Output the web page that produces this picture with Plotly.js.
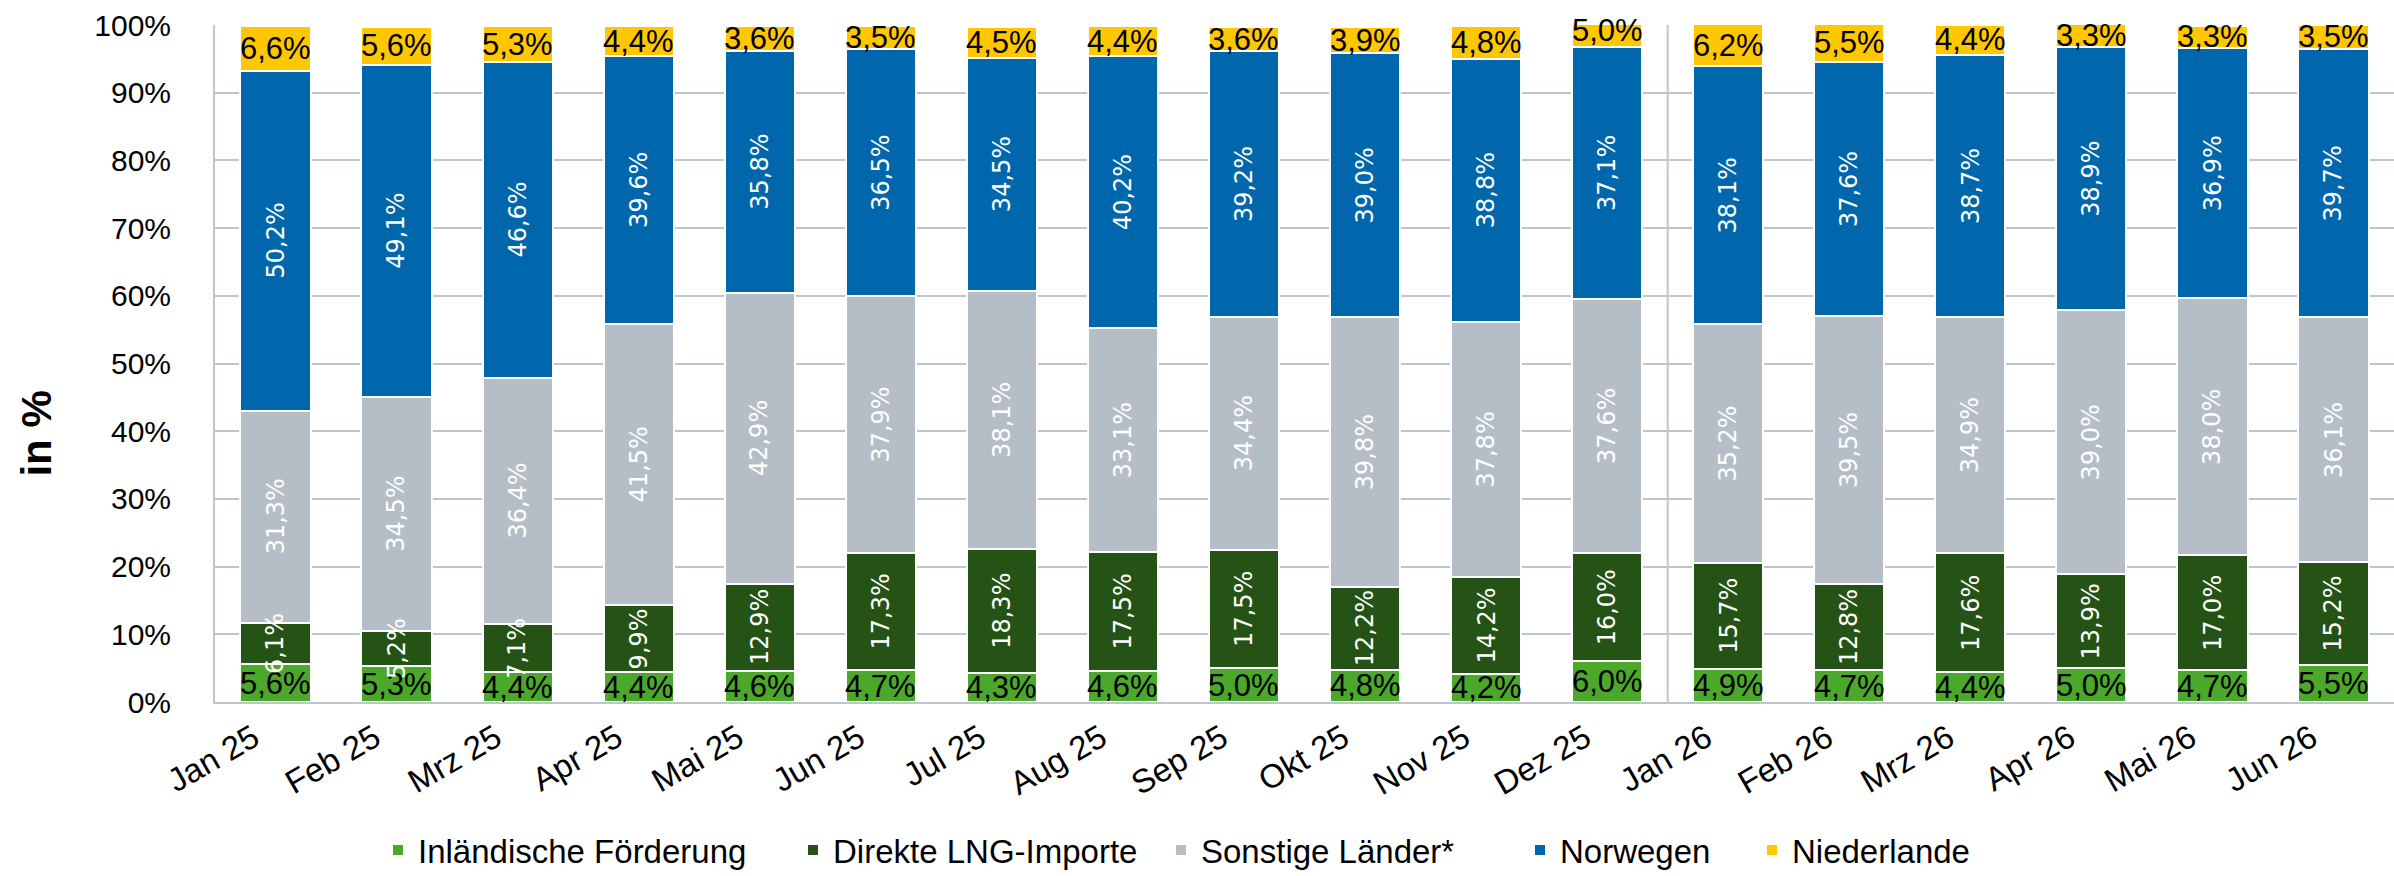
<!DOCTYPE html>
<html>
<head>
<meta charset="utf-8">
<script src="https://cdn.plot.ly/plotly-3.0.1.min.js"></script>
<style>
  html, body { margin: 0; padding: 0; background: #ffffff; }
  #chart { width: 2394px; height: 876px; }
</style>
</head>
<body>
<div id="chart"></div>
<script>
const months = ["Jan 25","Feb 25","Mrz 25","Apr 25","Mai 25","Jun 25","Jul 25","Aug 25","Sep 25","Okt 25","Nov 25","Dez 25","Jan 26","Feb 26","Mrz 26","Apr 26","Mai 26","Jun 26"];
const inlaendisch = [5.6,5.3,4.4,4.4,4.6,4.7,4.3,4.6,5.0,4.8,4.2,6.0,4.9,4.7,4.4,5.0,4.7,5.5];
const lng = [6.1,5.2,7.1,9.9,12.9,17.3,18.3,17.5,17.5,12.2,14.2,16.0,15.7,12.8,17.6,13.9,17.0,15.2];
const sonstige = [31.3,34.5,36.4,41.5,42.9,37.9,38.1,33.1,34.4,39.8,37.8,37.6,35.2,39.5,34.9,39.0,38.0,36.1];
const norwegen = [50.2,49.1,46.6,39.6,35.8,36.5,34.5,40.2,39.2,39.0,38.8,37.1,38.1,37.6,38.7,38.9,36.9,39.7];
const niederlande = [6.6,5.6,5.3,4.4,3.6,3.5,4.5,4.4,3.6,3.9,4.8,5.0,6.2,5.5,4.4,3.3,3.3,3.5];
const seriesNames = ["Inländische Förderung","Direkte LNG-Importe","Sonstige Länder*","Norwegen","Niederlande"];
const yTicks = [0,10,20,30,40,50,60,70,80,90,100];
const yTitle = "in %";

const seriesData = [inlaendisch, lng, sonstige, norwegen, niederlande];
const colors = ["#4BA82A","#245315","#B5BEC7","#0067AD","#FFC700"];
const labelStyle = [
  {color:"#000000", angle:0, family:"Liberation Sans, Arial, sans-serif", size:31},
  {color:"#FFFFFF", angle:-90, family:"DejaVu Sans, sans-serif", size:24},
  {color:"#FFFFFF", angle:-90, family:"DejaVu Sans, sans-serif", size:24},
  {color:"#FFFFFF", angle:-90, family:"DejaVu Sans, sans-serif", size:24},
  {color:"#000000", angle:0, family:"Liberation Sans, Arial, sans-serif", size:31}
];
// legend placement (container px, left edge of each legend box)
const legendLeft = [378, 793, 1161, 1520, 1752];
const fmt = v => v.toFixed(1).replace('.', ',') + '%';

const W = 2394, H = 876;
const legendFont = { size: 33, family: 'Liberation Sans, Arial, sans-serif', color: '#000000' };

const traces = seriesData.map((vals, i) => ({
  type: 'bar',
  name: seriesNames[i],
  x: months,
  y: vals,
  legend: i === 0 ? 'legend' : 'legend' + (i + 1),
  marker: { color: colors[i], line: { color: '#FFFFFF', width: 2 } },
  hoverinfo: 'skip'
}));

const annotations = [];
const base = months.map(() => 0);
seriesData.forEach((vals, i) => {
  vals.forEach((v, j) => {
    annotations.push({
      x: months[j], y: base[j] + v / 2, xref: 'x', yref: 'y',
      text: fmt(v), showarrow: false, textangle: labelStyle[i].angle,
      font: { color: labelStyle[i].color, family: labelStyle[i].family, size: labelStyle[i].size },
      xanchor: 'center', yanchor: 'middle'
    });
    base[j] += v;
  });
});
annotations.push({
  xref: 'paper', yref: 'paper', x: -0.082, y: 0.397,
  text: '<b>' + yTitle + '</b>', showarrow: false, textangle: -90,
  font: { size: 42, family: 'Liberation Sans, Arial, sans-serif', color: '#000000' },
  xanchor: 'center', yanchor: 'middle'
});

const gridColor = '#BFC5CC';
const layout = {
  width: W, height: H,
  margin: { l: 215, r: 0, t: 25, b: 174 },
  paper_bgcolor: '#FFFFFF', plot_bgcolor: '#FFFFFF',
  barmode: 'stack',
  bargap: 0.42,
  font: { family: 'Liberation Sans, Arial, sans-serif', color: '#000000' },
  xaxis: {
    type: 'category',
    tickangle: -30,
    tickfont: { size: 33, family: 'Liberation Sans, Arial, sans-serif', color: '#000000' },
    ticklabelstandoff: 2,
    ticklabelshift: -22,
    showgrid: false,
    showline: true, linecolor: gridColor, linewidth: 2,
    ticks: '',
    fixedrange: true
  },
  yaxis: {
    range: [0, 100],
    tickvals: yTicks,
    ticktext: yTicks.map(t => t + '%'),
    tickfont: { size: 30, family: 'Liberation Sans, Arial, sans-serif', color: '#000000' },
    showgrid: true, gridcolor: gridColor, gridwidth: 2,
    showline: true, linecolor: gridColor, linewidth: 2,
    zeroline: false,
    ticks: '',
    ticklabelstandoff: 36,
    fixedrange: true
  },
  shapes: [{
    type: 'line', xref: 'x', yref: 'y', x0: 11.5, x1: 11.5, y0: 0, y1: 100,
    line: { color: gridColor, width: 2 }, layer: 'below'
  }],
  annotations: annotations,
  showlegend: true
};
legendLeft.forEach((px, i) => {
  const key = i === 0 ? 'legend' : 'legend' + (i + 1);
  layout[key] = {
    orientation: 'h',
    xref: 'container', yref: 'container',
    x: px / W, xanchor: 'left',
    y: 26 / H, yanchor: 'middle',
    font: legendFont,
    bgcolor: 'rgba(0,0,0,0)'
  };
});

Plotly.newPlot('chart', traces, layout, { displayModeBar: false, staticPlot: true });
</script>
</body>
</html>
